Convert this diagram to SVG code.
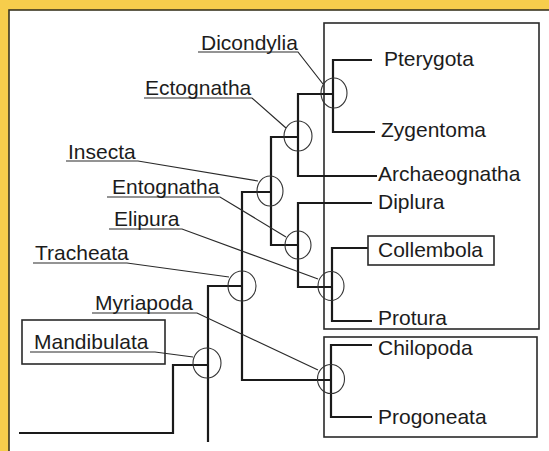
<svg xmlns="http://www.w3.org/2000/svg" width="549" height="451" viewBox="0 0 549 451">
<style>
text{font-family:"Liberation Sans",Arial,sans-serif;font-size:21px;fill:#1c1c1c}
.tree{fill:none;stroke:#1a1a1a;stroke-width:2.2}
.box{fill:none;stroke:#2a2a2a;stroke-width:1.6}
.lead{fill:none;stroke:#2a2a2a;stroke-width:1.2}
.node{fill:none;stroke:#333;stroke-width:1.1}
</style>
<rect x="0" y="0" width="549" height="451" fill="#f6cd4c"/>
<rect x="9" y="10" width="545" height="450" fill="#ffffff" stroke="#3a3520" stroke-width="1.6"/>
<g id="boxes">
<rect class="box" x="324" y="23" width="215" height="306"/>
<rect class="box" x="324" y="337" width="213" height="100"/>
</g>
<g id="connectors">
<path class="tree" d="M19,433H173V365H208"/>
<path class="tree" d="M208,442V286H242"/>
<path class="tree" d="M331,380H242V192H271"/>
<path class="tree" d="M298,137H271V245H298"/>
<path class="tree" d="M333,94H298V176H377"/>
<path class="tree" d="M372,60H333V132H375"/>
<path class="tree" d="M372,203H298V287H332"/>
<path class="tree" d="M368,248H332V321H372"/>
<path class="tree" d="M372,345H331V417H372"/>
<polyline class="lead" points="198,52 298,52 323,84"/>
<polyline class="lead" points="144,98 252,98 286,128"/>
<polyline class="lead" points="66,161 138,161 258,181"/>
<polyline class="lead" points="107,197 220,197 286,237"/>
<polyline class="lead" points="109,229 182,229 318,279"/>
<polyline class="lead" points="33,263 127,263 229,277"/>
<polyline class="lead" points="92,313 197,313 318,370"/>
<polyline class="lead" points="30,352 155,352 193,357"/>
</g>
<g id="Dicondylia"><ellipse class="node" cx="334" cy="93" rx="13" ry="15"/><text x="201" y="50">Dicondylia</text></g>
<g id="Ectognatha"><ellipse class="node" cx="298" cy="136" rx="14" ry="15"/><text x="145" y="95">Ectognatha</text></g>
<g id="Insecta"><ellipse class="node" cx="270" cy="191" rx="13" ry="15"/><text x="68" y="159">Insecta</text></g>
<g id="Entognatha"><ellipse class="node" cx="298" cy="245" rx="13" ry="14"/><text x="112" y="194">Entognatha</text></g>
<g id="Elipura"><ellipse class="node" cx="331" cy="286" rx="13" ry="14.5"/><text x="114" y="226">Elipura</text></g>
<g id="Tracheata"><ellipse class="node" cx="242" cy="286" rx="14" ry="15"/><text x="35" y="260">Tracheata</text></g>
<g id="Myriapoda"><ellipse class="node" cx="331" cy="379" rx="13.5" ry="14.5"/><text x="95" y="310">Myriapoda</text></g>
<g id="Mandibulata"><rect class="box" x="22" y="320" width="143" height="44"/><ellipse class="node" cx="207" cy="363" rx="14" ry="15"/><text x="34" y="349">Mandibulata</text></g>
<g id="Pterygota"><text x="384" y="66">Pterygota</text></g>
<g id="Zygentoma"><text x="381" y="137">Zygentoma</text></g>
<g id="Archaeognatha"><text x="378" y="181">Archaeognatha</text></g>
<g id="Diplura"><text x="378" y="209">Diplura</text></g>
<g id="Collembola"><rect class="box" x="368" y="236" width="126" height="29"/><text x="378" y="257">Collembola</text></g>
<g id="Protura"><text x="378" y="325">Protura</text></g>
<g id="Chilopoda"><text x="378" y="355">Chilopoda</text></g>
<g id="Progoneata"><text x="378" y="424">Progoneata</text></g>
</svg>
